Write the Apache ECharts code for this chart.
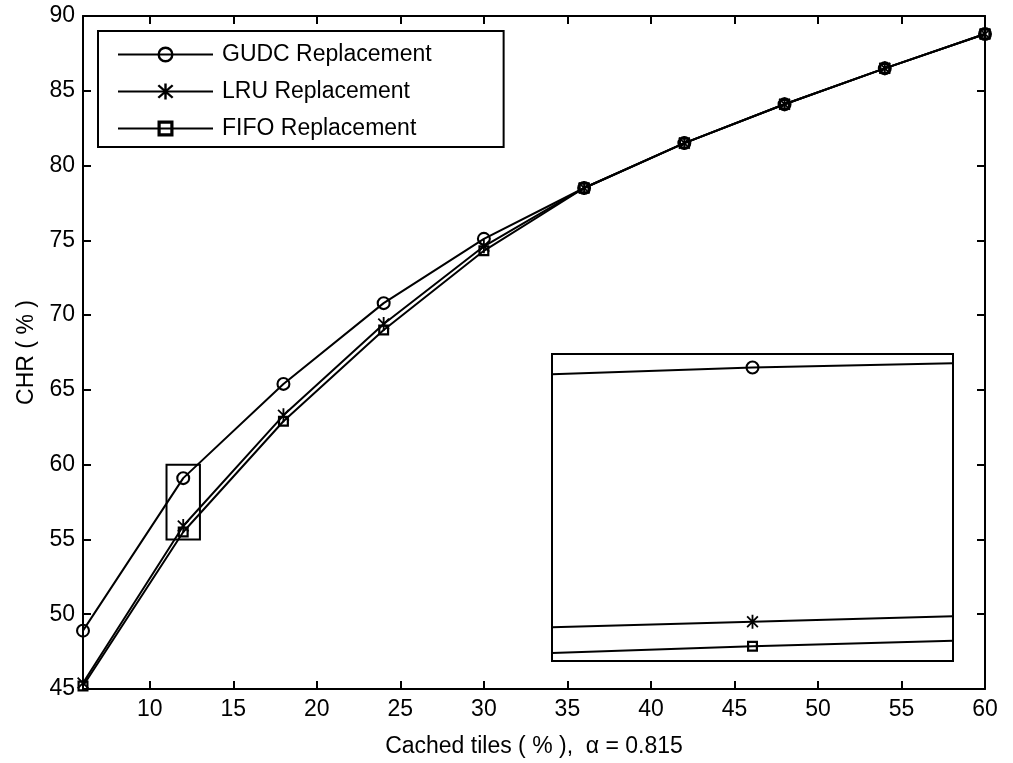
<!DOCTYPE html>
<html>
<head>
<meta charset="utf-8">
<script src="https://cdn.jsdelivr.net/npm/echarts@6/dist/echarts.min.js"></script>
<style>
  html, body { margin: 0; padding: 0; background: #fff; }
  #chart { width: 1013px; height: 763px; }
</style>
</head>
<body>
<div id="chart"></div>
<script>
// x: cached tiles (%), y: CHR (%)
const cachedTiles = [6, 12, 18, 24, 30, 36, 42, 48, 54, 60];
const gudcHit = [48.9, 59.1, 65.4, 70.8, 75.1, 78.5, 81.5, 84.1, 86.5, 88.8];
const lruHit = [45.4, 55.9, 63.3, 69.4, 74.6, 78.5, 81.5, 84.1, 86.5, 88.8];
const fifoHit = [45.2, 55.5, 62.9, 69.0, 74.3, 78.5, 81.5, 84.1, 86.5, 88.8];
const xTickValues = [10, 15, 20, 25, 30, 35, 40, 45, 50, 55, 60];

// the small box around x = 12 and the enlarged view drawn in the inset
const zoomX = [11, 13];
const zoomY = [55, 60];
const insetX = [11, 12, 13];
const insetGudc = [59.67, 59.78, 59.85];
const insetLru = [55.55, 55.64, 55.73];
const insetFifo = [55.13, 55.24, 55.33];

const FONT = "'Liberation Sans', Arial, sans-serif";
// hollow markers drawn as outlines so overlapping ones stay see-through (like matlab)
const RING = 'path://M10 0A10 10 0 1 1 10 20A10 10 0 1 1 10 0z M10 3A7 7 0 1 0 10 17A7 7 0 1 0 10 3z';
const STAR = 'path://M8.7 0h2.6v20h-2.6z M3.2 1.4L18.6 16.8L16.8 18.6L1.4 3.2z M16.8 1.4L18.6 3.2L3.2 18.6L1.4 16.8z';
const BOX = 'path://M0 0H20V20H0z M4 4V16H16V4z';
const names = ['GUDC Replacement', 'LRU Replacement', 'FIFO Replacement'];
const symbols = [RING, STAR, BOX];
const sizes = [14, [12, 14], 11];

const chart = echarts.init(document.getElementById('chart'));

const tickStyle = { inside: true, length: 8, lineStyle: { color: '#000', width: 2 } };
const lineAxis = { lineStyle: { color: '#000', width: 2 }, onZero: false };

function mainSeries(i, values) {
  return {
    name: names[i],
    type: 'line',
    xAxisIndex: 0,
    yAxisIndex: 0,
    data: cachedTiles.map((x, k) => [x, values[k]]),
    symbol: symbols[i],
    symbolSize: sizes[i],
    showAllSymbol: true,
    lineStyle: { color: '#000', width: 2 },
    itemStyle: { color: '#000', borderWidth: 0 },
    emphasis: { disabled: true },
    z: 3 + i
  };
}

function insetSeries(i, values) {
  return {
    name: names[i],
    type: 'line',
    xAxisIndex: 2,
    yAxisIndex: 2,
    data: insetX.map((x, k) => [x, values[k]]),
    // marker only at the middle sample
    symbol: (v) => (v[0] === insetX[1] ? symbols[i] : 'none'),
    symbolSize: sizes[i],
    lineStyle: { color: '#000', width: 2 },
    itemStyle: { color: '#000', borderWidth: 0 },
    emphasis: { disabled: true },
    z: 3
  };
}

const series = [
  mainSeries(0, gudcHit),
  mainSeries(1, lruHit),
  mainSeries(2, fifoHit),
  insetSeries(0, insetGudc),
  insetSeries(1, insetLru),
  insetSeries(2, insetFifo)
];

series[0].markArea = {
  silent: true,
  label: { show: false },
  itemStyle: { color: 'rgba(0,0,0,0)', borderColor: '#000', borderWidth: 2 },
  data: [[{ coord: [zoomX[0], zoomY[1]] }, { coord: [zoomX[1], zoomY[0]] }]]
};

const option = {
  animation: false,
  backgroundColor: '#fff',
  textStyle: { fontFamily: FONT, color: '#000' },
  legend: {
    data: names,
    orient: 'vertical',
    left: 98,
    top: 31,
    padding: [12, 72, 7, 19],
    itemGap: 14,
    itemWidth: 95,
    itemHeight: 20,
    borderColor: '#000',
    borderWidth: 2,
    backgroundColor: '#fff',
    textStyle: { fontFamily: FONT, fontSize: 23, color: '#000', padding: [0, 0, 0, 4] }
  },
  grid: [
    { left: 83, top: 16, right: 28, bottom: 65 },
    {
      left: 552, top: 354, width: 401, height: 307,
      show: true, borderColor: '#000', borderWidth: 2, backgroundColor: '#fff'
    }
  ],
  xAxis: [
    {
      type: 'value', gridIndex: 0, min: 6, max: 60,
      name: 'Cached tiles ( % ),  α = 0.815',
      nameLocation: 'middle', nameGap: 46,
      nameTextStyle: { fontFamily: FONT, fontSize: 23, color: '#000' },
      axisLine: lineAxis,
      axisTick: Object.assign({ customValues: xTickValues }, tickStyle),
      axisLabel: { customValues: xTickValues, fontFamily: FONT, fontSize: 23, color: '#000', margin: 9 },
      splitLine: { show: false }
    },
    {
      type: 'value', gridIndex: 0, min: 6, max: 60, position: 'top',
      axisLine: lineAxis,
      axisTick: Object.assign({ customValues: xTickValues }, tickStyle),
      axisLabel: { show: false },
      splitLine: { show: false }
    },
    {
      type: 'value', gridIndex: 1, min: zoomX[0], max: zoomX[1], show: false
    }
  ],
  yAxis: [
    {
      type: 'value', gridIndex: 0, min: 45, max: 90, interval: 5,
      name: 'CHR ( % )',
      nameLocation: 'middle', nameGap: 45, nameRotate: 90,
      nameTextStyle: { fontFamily: FONT, fontSize: 23, color: '#000' },
      axisLine: lineAxis,
      axisTick: tickStyle,
      axisLabel: { fontFamily: FONT, fontSize: 23, color: '#000', margin: 8 },
      splitLine: { show: false }
    },
    {
      type: 'value', gridIndex: 0, min: 45, max: 90, interval: 5, position: 'right',
      axisLine: lineAxis,
      axisTick: tickStyle,
      axisLabel: { show: false },
      splitLine: { show: false }
    },
    {
      type: 'value', gridIndex: 1, min: zoomY[0], max: zoomY[1], show: false
    }
  ],
  series: series
};

chart.setOption(option);
</script>
</body>
</html>
